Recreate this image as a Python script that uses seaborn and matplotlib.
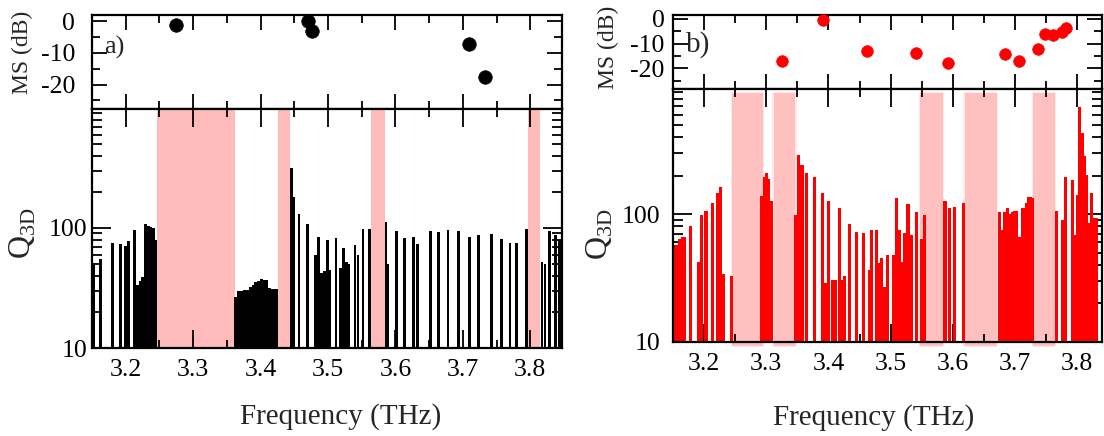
import matplotlib
matplotlib.use("Agg")
import matplotlib.pyplot as plt
import seaborn as sns
from matplotlib.ticker import MultipleLocator, LogLocator, NullFormatter, FixedLocator, FixedFormatter

# ---- panel a) ----
ms_a_freq = [3.274, 3.470, 3.477, 3.709, 3.733]
ms_a_db = [-1.3, 0.0, -2.9, -7.1, -17.7]

q_a_freq = [3.152, 3.163, 3.181, 3.192, 3.1995, 3.204, 3.2135, 3.2175, 3.2215, 3.2245,
            3.229, 3.2335, 3.2375, 3.241, 3.2445,
            3.3625, 3.367, 3.3715, 3.376, 3.3805, 3.385, 3.389, 3.393, 3.397, 3.401,
            3.405, 3.409, 3.413, 3.417, 3.421, 3.4245,
            3.4455, 3.4495, 3.457, 3.470, 3.4815, 3.4855, 3.4905, 3.4945, 3.499, 3.5025,
            3.512, 3.518, 3.5225, 3.527, 3.531, 3.540, 3.5445, 3.552, 3.561,
            3.586, 3.589, 3.602, 3.613, 3.627, 3.633, 3.652, 3.664, 3.678, 3.694,
            3.710, 3.723, 3.743, 3.757, 3.770, 3.780, 3.794,
            3.8175, 3.822, 3.828, 3.838, 3.844]
q_a_val = [51, 55, 74.6, 73.6, 71.4, 78.4, 96, 33.5, 36, 39.3,
           107, 103, 102, 99.4, 79.4,
           26.8, 29.8, 29.8, 30.4, 30.4, 32, 33.5, 35.6, 36.5, 37.3,
           37.0, 36.8, 31.4, 31.1, 31.1, 31.1,
           314, 182, 132, 107, 59.6, 84.7, 42.4, 44, 79.4, 45,
           83, 46, 68.5, 52.4, 50, 72, 59.6, 98, 98,
           112, 50, 94.4, 82, 84.7, 73.6, 95, 92, 96.7, 95,
           84.7, 86.9, 89.1, 80.5, 74.5, 74.5, 98,
           52, 50, 95, 88, 80]
gaps_a = [(3.246, 3.362), (3.426, 3.443), (3.564, 3.584), (3.796, 3.814)]

# ---- panel b) ----
ms_b_freq = [3.325, 3.3915, 3.462, 3.541, 3.593, 3.6836, 3.706, 3.7366, 3.749, 3.7607, 3.775, 3.7816]
ms_b_db = [-17.1, -0.3, -13.1, -14.0, -17.7, -14.4, -17.1, -12.0, -6.1, -6.7, -5.4, -3.6]

q_b_freq = [3.1535, 3.1575, 3.161, 3.165, 3.168, 3.178, 3.1915, 3.1955, 3.203, 3.214,
            3.2215, 3.2265, 3.2315, 3.244,
            3.292, 3.297, 3.300, 3.304, 3.3085,
            3.3465, 3.352, 3.3575, 3.3645, 3.3775, 3.3905, 3.3945, 3.4005, 3.406, 3.411,
            3.4185, 3.4225, 3.426, 3.4335, 3.4445, 3.4565, 3.4665, 3.4695, 3.4775, 3.481,
            3.485, 3.4895, 3.495, 3.505, 3.510, 3.514, 3.517, 3.523, 3.528, 3.5335,
            3.5415, 3.549, 3.5545,
            3.5875, 3.594, 3.6025, 3.6175,
            3.6745, 3.679, 3.684, 3.688, 3.692, 3.696, 3.6995, 3.7025, 3.7075, 3.7115,
            3.715, 3.718, 3.722, 3.725, 3.7285,
            3.7665, 3.777, 3.7815, 3.792, 3.796, 3.800, 3.8045, 3.8085, 3.812, 3.8155,
            3.8185, 3.823, 3.827, 3.8315]
q_b_val = [57, 57, 64, 66, 66, 80, 42, 98, 106, 122,
           145, 163, 34, 33,
           138, 196, 211, 188, 126,
           98, 289, 244, 211, 196, 146, 28.7, 126, 30.5, 30.5,
           110.6, 30.5, 32.8, 84, 72.6, 70.6, 36.5, 75, 75, 41.6,
           45, 27, 47.8, 47.8, 134.7, 75, 42.4, 71.5, 119, 69,
           103, 63.5, 98,
           126, 110.6, 112.6, 123,
           103, 75, 103, 110.6, 101, 103, 105, 106, 65.8, 110.6,
           110.6, 122, 136, 136, 134.7,
           106, 89.8, 196, 184.6, 69, 142, 687, 428, 284, 202,
           85, 146, 92.6, 92.6]
gaps_b = [(3.245, 3.294), (3.312, 3.347), (3.548, 3.584), (3.619, 3.671), (3.729, 3.764)]

sns.set_theme(style="ticks")
plt.rcParams["font.family"] = ["Liberation Serif", "DejaVu Serif"]
plt.rcParams["mathtext.fontset"] = "custom"
plt.rcParams["mathtext.rm"] = "Liberation Serif"
plt.rcParams["axes.unicode_minus"] = False

fig = plt.figure(figsize=(11.04, 4.36), dpi=100)


def style(ax, ypad):
    ax.tick_params(which="both", direction="in", top=True, right=True,
                   labelsize=18.5, width=1.3, color="black", labelcolor="black")
    ax.tick_params(which="major", length=11)
    ax.tick_params(which="minor", length=5.5)
    ax.tick_params(axis="x", pad=8)
    ax.tick_params(axis="y", pad=ypad)
    ax.xaxis.set_major_locator(MultipleLocator(0.1))
    ax.xaxis.set_minor_locator(MultipleLocator(0.05))
    for s in ax.spines.values():
        s.set_linewidth(1.6)
        s.set_color("black")
    ax.set_xlabel("")
    ax.set_ylabel("")


def panel(rect_top, rect_bot, ms_f, ms_db, qf, qv, gaps, xlim, ylim_top, ylim_bot,
          color, pink, bar_w, dot_s, pads, tag, tag_pos, tag_size, span_y, soft):
    ax_t = fig.add_axes(rect_top)
    ax_b = fig.add_axes(rect_bot)

    sns.scatterplot(x=ms_f, y=ms_db, ax=ax_t, color=color, s=dot_s,
                    edgecolor=color, linewidth=0.5, legend=False, zorder=3, clip_on=False)
    ax_t.set_xlim(*xlim)
    ax_t.set_ylim(*ylim_top)
    ax_t.yaxis.set_major_locator(FixedLocator([-20, -10, 0]))
    ax_t.yaxis.set_minor_locator(MultipleLocator(5))
    style(ax_t, pads[0])
    ax_t.tick_params(labelbottom=False)
    ax_t.text(tag_pos[0], tag_pos[1], tag, transform=ax_t.transAxes,
              fontsize=tag_size, va="center", ha="left")

    ax_b.set_yscale("log")
    for lo, hi in gaps:
        if soft:
            ax_b.axvspan(lo - 0.002, hi + 0.002, ymin=span_y[0] - 0.006, ymax=span_y[1] + 0.004,
                         color=pink, alpha=0.35, lw=0, zorder=0, clip_on=False)
        ax_b.axvspan(lo, hi, ymin=span_y[0], ymax=span_y[1], color=pink, lw=0,
                     zorder=0.5, clip_on=False)
    ax_b.bar(qf, qv, width=bar_w, color=color, linewidth=0, zorder=2)
    ax_b.set_xlim(*xlim)
    ax_b.set_ylim(*ylim_bot)
    ax_b.yaxis.set_major_locator(FixedLocator([10, 100]))
    ax_b.yaxis.set_major_formatter(FixedFormatter(["10", "100"]))
    ax_b.yaxis.set_minor_locator(LogLocator(base=10, subs=range(2, 10)))
    ax_b.yaxis.set_minor_formatter(NullFormatter())
    style(ax_b, pads[1])
    ax_b.tick_params(axis="y", which="major", length=14)
    ax_b.tick_params(axis="y", which="minor", length=7)
    ax_b.tick_params(axis="x", which="major", length=13)
    return ax_t, ax_b


panel([0.0833, 0.750, 0.4257, 0.2156], [0.0833, 0.2018, 0.4257, 0.5482],
      ms_a_freq, ms_a_db, q_a_freq, q_a_val, gaps_a, (3.15, 3.847), (-27.7, 2.0), (10, 980),
      "black", "#ffbaba", 0.0042, 95, (12, 3), "a)", (0.026, 0.66), 19, (0, 1), False)

panel([0.6096, 0.7959, 0.3886, 0.1697], [0.6096, 0.2156, 0.3886, 0.5803],
      ms_b_freq, ms_b_db, q_b_freq, q_b_val, gaps_b, (3.15, 3.84), (-28.4, 1.6), (10, 950),
      "#ff0000", "#ffc0c0", 0.005, 70, (6, 9), "b)", (0.03, 0.60), 21, (-0.015, 0.985), True)

fig.text(0.020, 0.881, "MS (dB)", rotation=90, ha="center", va="center", fontsize=17)
fig.text(0.551, 0.892, "MS (dB)", rotation=90, ha="center", va="center", fontsize=17)
fig.text(0.0208, 0.466, r"Q$_{\mathrm{3D}}$", rotation=90, ha="center", va="center", fontsize=23)
fig.text(0.5435, 0.463, r"Q$_{\mathrm{3D}}$", rotation=90, ha="center", va="center", fontsize=23)
fig.text(341 / 1104, 1 - 424 / 436, "Frequency (THz)", ha="center", va="baseline", fontsize=21)
fig.text(874 / 1104, 1 - 425 / 436, "Frequency (THz)", ha="center", va="baseline", fontsize=21)

fig.savefig("out.png", dpi=100)
